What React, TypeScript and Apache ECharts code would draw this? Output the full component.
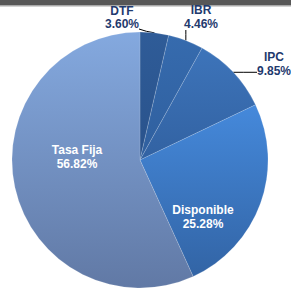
import React, { useEffect, useRef } from "react";
import * as echarts from "echarts";

const categories = ["DTF", "IBR", "IPC", "Disponible", "Tasa Fija"];
const values = [3.6, 4.46, 9.85, 25.28, 56.82];

const sliceColors: [string, string][] = [
  ["#2F5C98", "#29528B"],
  ["#366BAE", "#2F5F9E"],
  ["#3D74BA", "#3262A2"],
  ["#4589DB", "#3264A5"],
  ["#84A9DF", "#6179A5"],
];

// label anchor positions (text block centres) for each slice
const labelPos: [number, number][] = [
  [122, 17.5],
  [201, 17],
  [274, 64],
];
const innerLabelPos: [number, number][] = [
  [0, 0],
  [0, 0],
  [0, 0],
  [203, 217],
  [77, 157],
];

export default function App() {
  const ref = useRef<HTMLDivElement>(null);
  useEffect(() => {
    if (!ref.current) return;
    const chart = echarts.init(ref.current, null, { renderer: "svg" });
    const data = categories.map((name, i) => {
      const inside = i >= 3;
      return {
        name,
        value: values[i],
        itemStyle: {
          color: new echarts.graphic.LinearGradient(0, 0, 0, 1, [
            { offset: 0, color: sliceColors[i][0] },
            { offset: 1, color: sliceColors[i][1] },
          ]),
        },
        label: inside
          ? { position: "inside", color: "#FFFFFF" }
          : { position: "outside", color: "#1F3A6E" },
        labelLine: { show: !inside },
      };
    });
    chart.setOption({
      animation: false,
      graphic: [
        { type: "rect", shape: { x: 0, y: 0, width: 291, height: 5 }, style: { fill: "#575757" } },
        { type: "rect", shape: { x: 0, y: 5, width: 291, height: 1.5 }, style: { fill: "#A8A8A8" } },
      ],
      series: [
        {
          type: "pie",
          center: [140, 160],
          radius: 128,
          startAngle: 90,
          clockwise: true,
          avoidLabelOverlap: false,
          data,
          itemStyle: { borderColor: "rgba(255,255,255,0.25)", borderWidth: 0.6 },
          label: {
            show: true,
            fontFamily: "'Liberation Sans', Arial, sans-serif",
            fontWeight: "bold",
            fontSize: 12,
            lineHeight: 13.5,
            align: "center",
            formatter: (p: any) => `${p.name}\n${p.value.toFixed(2)}%`,
          },
          labelLine: {
            show: true,
            lineStyle: { color: "#000000", width: 1 },
            length: 8,
            length2: 10,
          },
          labelLayout: (params: any) => {
            const i = params.dataIndex;
            if (i >= 3) {
              const [x, y] = innerLabelPos[i];
              return { x, y, align: "center", verticalAlign: "middle" };
            }
            const [x, y] = labelPos[i];
            const start = params.labelLinePoints ? params.labelLinePoints[0] : [x, y];
            let pts: number[][];
            if (i === 0) {
              pts = [start, [start[0] - 8, start[1] - 1.5], [139, 29]];
            } else if (i === 1) {
              pts = [start, [start[0], start[1] - 6], [start[0], 30]];
            } else {
              pts = [start, [start[0] + 10, start[1]], [257, start[1]]];
            }
            return {
              x,
              y,
              align: "center",
              verticalAlign: "middle",
              labelLinePoints: pts,
            };
          },
        },
      ],
    });
    return () => chart.dispose();
  }, []);
  return (
    <div
      ref={ref}
      style={{ position: "absolute", left: 0, top: 0, width: 291, height: 295 }}
    />
  );
}
